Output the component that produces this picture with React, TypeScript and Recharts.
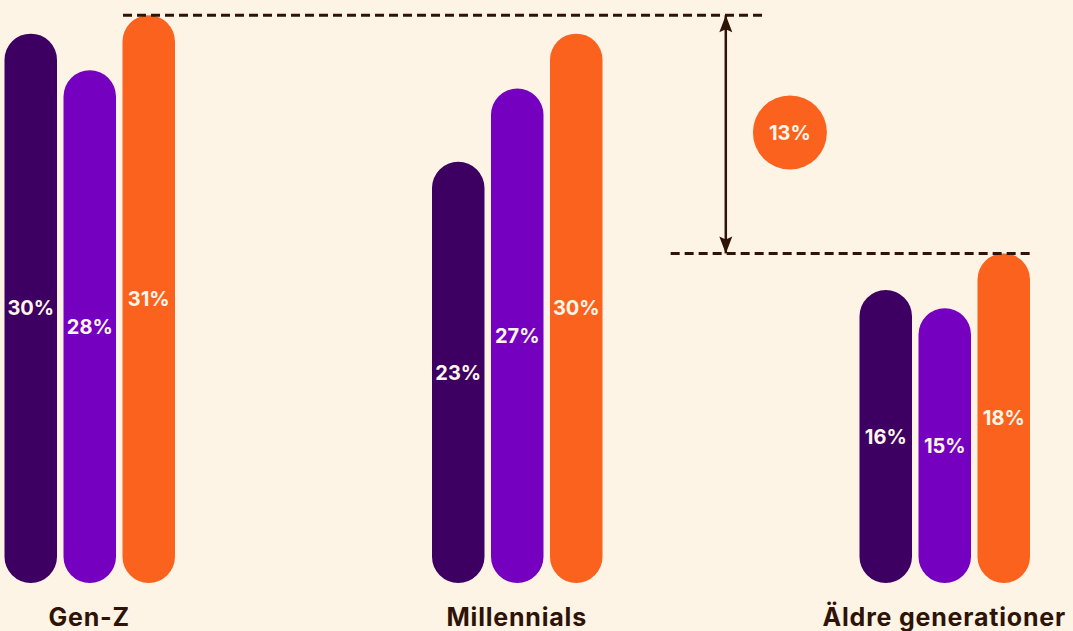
import { BarChart, Bar, XAxis, YAxis, LabelList, ReferenceLine, ReferenceDot } from "recharts";

// values as printed on the bars (%)
const groups = ["Gen-Z", "Millennials", "Äldre generationer"];
const darkSeries = [30, 23, 16];
const purpleSeries = [28, 27, 15];
const orangeSeries = [31, 30, 18];

// the gap that is called out on the right: top of Gen-Z orange vs top of the oldest orange
const gapHigh = 31;
const gapLow = 18;
const gapLabel = "13%";

const data = groups.map((group, i) => ({
  group,
  dark: darkSeries[i],
  purple: purpleSeries[i],
  orange: orangeSeries[i],
}));

const BG = "#FEF4E5";
const INK = "#2E1306";
const DARK = "#3D0062";
const PURPLE = "#7600BF";
const ORANGE = "#FA621D";
const LABEL = "#FFF6EA";
const FONT = "Inter, 'Noto Sans', sans-serif";

// annotation x positions on a 0..2 axis spanning the three group bands
// (group centres sit at 1/3, 1, 5/3)
const lineHighFrom = 0.386;
const lineHighTo = 1.387;
const lineLowFrom = 1.24;
const lineLowTo = 1.802;
const arrowX = 1.326;
const bubbleX = 1.426;
const bubbleY = 24.6;

const arrowHead = (dir: number) => (props: any) => {
  const { cx, cy } = props;
  const h = 17;
  const w = 6.5;
  const notch = 3;
  return (
    <path
      d={`M${cx},${cy} L${cx - w},${cy + dir * h} L${cx},${cy + dir * (h - notch)} L${cx + w},${cy + dir * h} Z`}
      fill={INK}
    />
  );
};

const barLabel = { fill: LABEL, fontSize: 20, fontWeight: 700, fontFamily: FONT };

export default function App() {
  return (
    <div style={{ position: "absolute", left: 0, top: 0, width: 1073, height: 631, background: BG, fontFamily: FONT }}>
      <BarChart
        width={1073}
        height={631}
        data={data}
        margin={{ top: -3, right: -85, bottom: 0, left: -124.5 }}
        barSize={52.5}
        barGap={6.5}
      >
        <XAxis
          dataKey="group"
          axisLine={false}
          tickLine={false}
          height={48}
          interval={0}
          tickMargin={19}
          tick={{ fill: INK, fontSize: 25, fontWeight: 700, fontFamily: FONT, letterSpacing: 0.8 }}
        />
        <XAxis xAxisId="note" type="number" domain={[0, 2]} allowDataOverflow hide />
        <YAxis hide domain={[0, 32]} />
        <Bar dataKey="dark" fill={DARK} radius={27} isAnimationActive={false}>
          <LabelList dataKey="dark" position="center" formatter={(v: any) => `${v}%`} {...barLabel} />
        </Bar>
        <Bar dataKey="purple" fill={PURPLE} radius={27} isAnimationActive={false}>
          <LabelList dataKey="purple" position="center" formatter={(v: any) => `${v}%`} {...barLabel} />
        </Bar>
        <Bar dataKey="orange" fill={ORANGE} radius={27} isAnimationActive={false}>
          <LabelList dataKey="orange" position="center" formatter={(v: any) => `${v}%`} {...barLabel} />
        </Bar>
        <ReferenceLine
          xAxisId="note"
          segment={[{ x: lineHighFrom, y: gapHigh }, { x: lineHighTo, y: gapHigh }]}
          stroke={INK}
          strokeWidth={3}
          strokeDasharray="9 5"
          ifOverflow="visible"
        />
        <ReferenceLine
          xAxisId="note"
          segment={[{ x: lineLowFrom, y: gapLow }, { x: lineLowTo, y: gapLow }]}
          stroke={INK}
          strokeWidth={3}
          strokeDasharray="9 5"
          ifOverflow="visible"
        />
        <ReferenceLine
          xAxisId="note"
          segment={[{ x: arrowX, y: gapHigh }, { x: arrowX, y: gapLow }]}
          stroke={INK}
          strokeWidth={2.5}
          ifOverflow="visible"
        />
        <ReferenceDot xAxisId="note" x={arrowX} y={gapHigh} shape={arrowHead(1)} ifOverflow="visible" />
        <ReferenceDot xAxisId="note" x={arrowX} y={gapLow} shape={arrowHead(-1)} ifOverflow="visible" />
        <ReferenceDot
          xAxisId="note"
          x={bubbleX}
          y={bubbleY}
          r={37}
          fill={ORANGE}
          stroke="none"
          ifOverflow="visible"
          label={{ value: gapLabel, position: "center", fill: LABEL, fontSize: 20, fontWeight: 700, fontFamily: FONT }}
        />
      </BarChart>
    </div>
  );
}
